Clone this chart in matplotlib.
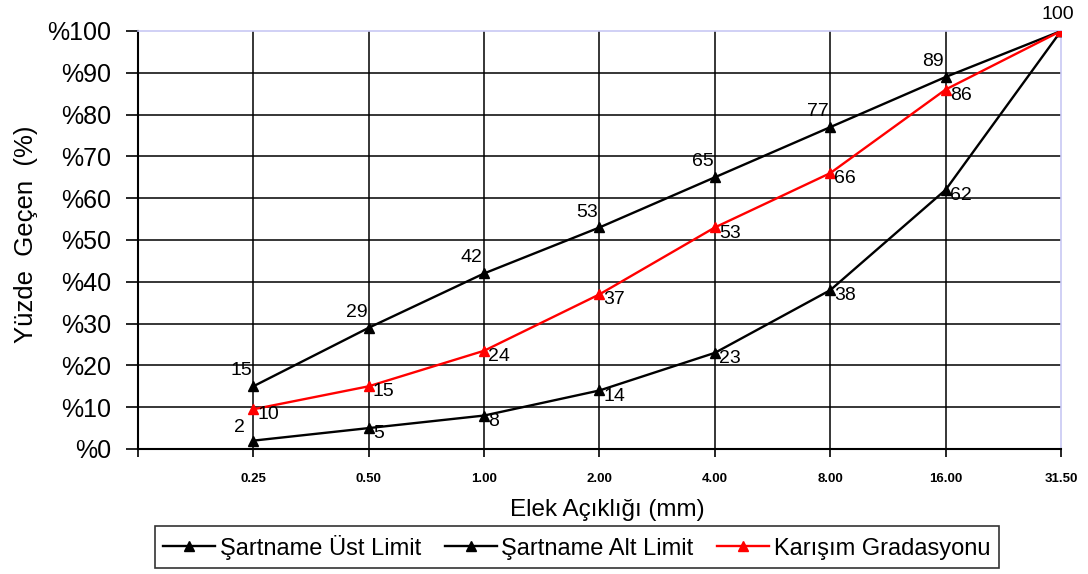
import matplotlib.pyplot as plt

plt.rcParams['font.family'] = ['Liberation Sans', 'DejaVu Sans']

sieve = ['0.25', '0.50', '1.00', '2.00', '4.00', '8.00', '16.00', '31.50']
upper = [15, 29, 42, 53, 65, 77, 89, 100]
lower = [2, 5, 8, 14, 23, 38, 62, 100]
mix = [10, 15, 24, 37, 53, 66, 86, 100]
mix_pos = [9.5, 15, 23.5, 37, 53, 66, 86, 100]
ytick_labels = ['%0', '%10', '%20', '%30', '%40', '%50', '%60', '%70', '%80', '%90', '%100']

x = list(range(1, len(sieve) + 1))

fig = plt.figure(figsize=(10.88, 5.74), dpi=100)
ax = fig.add_axes([0.1268, 0.2178, 0.8484, 0.7282])

# grid (black, drawn by hand so the top / right borders stay light)
for yv in range(10, 100, 10):
    ax.axhline(yv, color='black', lw=1.1, zorder=1)
for xv in x[:-1]:
    ax.axvline(xv, color='black', lw=1.1, zorder=1)

ax.plot(x, upper, color='black', lw=1.7, marker='^', ms=7, zorder=3,
        label='Şartname Üst Limit')
ax.plot(x, lower, color='black', lw=1.7, marker='^', ms=7, zorder=3,
        label='Şartname Alt Limit')
ax.plot(x, mix_pos, color='red', lw=1.7, marker='^', ms=7, zorder=4,
        label='Karışım Gradasyonu')

lbl = dict(fontsize=14, color='black', textcoords='offset points', zorder=5)
for i in range(len(x) - 1):
    ax.annotate(str(upper[i]), (x[i], upper[i]), xytext=(-1, 5),
                ha='right', va='bottom', **lbl)
    if i == 0:
        ax.annotate(str(lower[i]), (x[i], lower[i]), xytext=(-6, 3),
                    ha='right', va='bottom', **lbl)
    else:
        ax.annotate(str(lower[i]), (x[i], lower[i]), xytext=(3, -4),
                    ha='left', va='center', **lbl)
    ax.annotate(str(mix[i]), (x[i], mix_pos[i]), xytext=(3, -4),
                ha='left', va='center', **lbl)
ax.annotate(str(upper[-1]), (x[-1], upper[-1]), xytext=(-2, 6),
            ha='center', va='bottom', annotation_clip=False, **lbl)

ax.set_xlim(0, 8)
ax.set_ylim(0, 100)
ax.set_xticks([0] + x)
ax.set_xticklabels([''] + sieve, fontsize=9.5, fontweight='bold')
ax.set_yticks(range(0, 101, 10))
ax.set_yticklabels(ytick_labels, fontsize=18)
ax.tick_params(axis='x', direction='out', length=6, width=1.2, pad=11)
ax.tick_params(axis='y', direction='out', length=9, width=1.2, pad=10)

for s in ['left', 'bottom']:
    ax.spines[s].set_color('black')
    ax.spines[s].set_linewidth(1.5)
for s in ['top', 'right']:
    ax.spines[s].set_color('#c8c8f4')
    ax.spines[s].set_linewidth(1.2)

ax.set_xlabel('Elek Açıklığı (mm)', fontsize=17.5)
ax.xaxis.set_label_coords(0.509, -0.12)
ax.set_ylabel('Yüzde  Geçen  (%)', fontsize=18.5)
ax.yaxis.set_label_coords(-0.108, 0.514)

leg = fig.legend(loc='center', bbox_to_anchor=(0.53, 0.047), ncol=3, fontsize=17,
                 frameon=True, fancybox=False, edgecolor='black',
                 handlelength=2.2, handletextpad=0.2, columnspacing=1.0,
                 borderpad=0.35)
leg.get_frame().set_linewidth(1.2)

fig.savefig('out.png', dpi=100)
